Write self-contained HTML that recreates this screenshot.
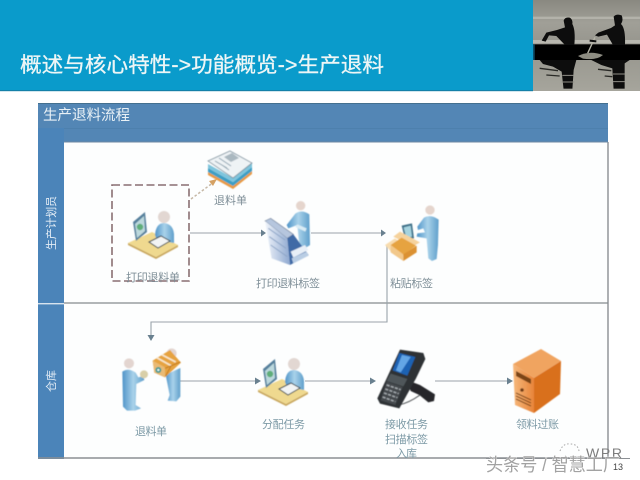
<!DOCTYPE html>
<html lang="zh">
<head>
<meta charset="utf-8">
<style>
html,body{margin:0;padding:0;width:640px;height:480px;overflow:hidden;background:#fff}
svg{display:block}
text{font-family:"Liberation Sans","Noto Sans CJK SC",sans-serif}
.l{font-size:11px;fill:#7f8f98}
.g{fill:#7d9aa6}
</style>
</head>
<body>
<svg width="640" height="480" viewBox="0 0 640 480" xmlns="http://www.w3.org/2000/svg">
<defs>
<filter id="b" x="-10%" y="-10%" width="120%" height="120%"><feGaussianBlur stdDeviation="0.6"/></filter>
<filter id="t" x="-5%" y="-20%" width="110%" height="140%"><feGaussianBlur stdDeviation="0.3"/></filter>
<filter id="p" x="-5%" y="-5%" width="110%" height="110%"><feGaussianBlur stdDeviation="0.8"/></filter>
<linearGradient id="body" x1="0" x2="1"><stop offset="0" stop-color="#4f94c8"/><stop offset=".5" stop-color="#a9d2ea"/><stop offset="1" stop-color="#5f9fcb"/></linearGradient>
<linearGradient id="srv" x1="0" x2="1"><stop offset="0" stop-color="#f6b87c"/><stop offset="1" stop-color="#e8853a"/></linearGradient>
<linearGradient id="sky" x1="0" x2="0" y1="0" y2="1"><stop offset="0" stop-color="#8a8981"/><stop offset=".25" stop-color="#a09f97"/><stop offset=".5" stop-color="#96958d"/><stop offset="1" stop-color="#a6a59c"/></linearGradient>
<linearGradient id="prn" x1="0" x2="1"><stop offset="0" stop-color="#f1f5fb"/><stop offset="1" stop-color="#8fa9d0"/></linearGradient>

<g id="desk">
  <path d="M0 33 L24 22 L50 35 L28 47 Z" fill="#efd98f"/>
  <path d="M0 33 L28 47 L50 35 L50 37 L28 49 L0 35 Z" fill="#c9a85e"/>
  <path d="M5 12 L17 2 L19 22 L8 31 Z" fill="#57809c"/>
  <path d="M7 14 L16 6 L17 21 L9 28 Z" fill="#bcd8dd"/>
  <circle cx="12" cy="17" r="3.2" fill="#5fae7a"/>
  <circle cx="36" cy="7" r="6" fill="#e2d7d2"/>
  <path d="M27 25 Q28 13 36 13 Q45 14 46 24 L46 33 L34 31 L29 30 Z" fill="url(#body)"/>
  <path d="M21 32 L33 26 L42 31 L30 38 Z" fill="#f2f4f4" stroke="#3d474e" stroke-width="1"/>
</g>
</defs>

<!-- header -->
<rect x="0" y="0" width="640" height="91" fill="#0a9bcb"/>
<rect x="0" y="90" width="533" height="1.2" fill="#1480a8"/>
<text x="20" y="72" font-size="21" fill="#eef6f6" stroke="#eef6f6" stroke-width=".3" textLength="364" lengthAdjust="spacingAndGlyphs" filter="url(#t)">概述与核心特性-&gt;功能概览-&gt;生产退料</text>

<!-- photo (drawn in 3x local coordinates) -->
<g transform="translate(533,0) scale(.3333)">
  <g filter="url(#p)">
    <rect x="0" y="0" width="321" height="273" fill="url(#sky)"/>
    <rect x="0" y="50" width="321" height="7" fill="#b3b2aa"/>
    <rect x="0" y="120" width="321" height="10" fill="#b9b8b0"/>
    <rect x="0" y="133" width="321" height="47" fill="#040404"/>
    <rect x="0" y="133" width="5" height="47" fill="#10506a"/>
    <!-- left rower -->
    <path d="M92 62 Q96 50 110 53 Q120 58 118 72 Q128 90 124 135 L96 135 L70 108 L48 106 L38 125 L26 122 L40 98 L72 90 L96 82 Z" fill="#0b0b0a"/>
    <!-- right rower -->
    <path d="M242 50 Q250 40 266 46 Q272 60 264 72 Q278 85 276 135 L240 135 L222 104 L196 110 L186 106 L196 98 L234 84 L246 76 Z" fill="#0b0b0a"/>
    <!-- oar -->
    <path d="M186 112 L164 160" stroke="#b5b4a8" stroke-width="4"/>
    <path d="M170 122 L190 124" stroke="#0b0b0a" stroke-width="6"/>
    <path d="M135 168 Q170 150 210 165 Q190 182 150 176 Z" fill="#8d8c82"/>
    <!-- reflections -->
    <path d="M20 180 H130 L122 210 L118 270 L92 270 L86 215 L60 200 L30 192 Z" fill="#0d0d0c"/>
    <path d="M175 180 H290 L275 190 L275 270 L242 270 L238 205 L205 195 Z" fill="#0d0d0c"/>
    <path d="M20 205 L75 212 M40 225 L80 228 M195 208 L235 212 M215 228 L238 230" stroke="#2a2a28" stroke-width="4"/>
    <path d="M88 226 H122 M86 246 H124 M240 222 H276 M240 245 H276" stroke="#8e8d85" stroke-width="3"/>
    <rect x="0" y="266" width="321" height="7" fill="#a6a59c"/>
  </g>
</g>

<!-- panel -->
<rect x="38" y="103" width="570" height="39" fill="#5386b5"/>
<rect x="38" y="103" width="570" height="1" fill="#44708f"/>
<rect x="38" y="128" width="570" height="1" fill="#4d80ad"/>
<rect x="38" y="128" width="26" height="331" fill="#4b84b9"/>
<rect x="38" y="303" width="26" height="1.4" fill="#d7e3ee"/>
<rect x="64" y="142" width="544" height="316" fill="#fdfefe"/>
<path d="M608 142 V458 H38" fill="none" stroke="#8b8f93" stroke-width="1.4"/>
<path d="M64 142 H608" stroke="#6e88a2" stroke-width="1"/>
<path d="M64 303 H608" stroke="#858b8f" stroke-width="1.2"/>
<text x="43" y="120" font-size="14.5" fill="#e9f1f6" textLength="87" lengthAdjust="spacingAndGlyphs" filter="url(#t)">生产退料流程</text>
<text transform="translate(55,250) rotate(-90)" font-size="11" fill="#e5eef6" textLength="54" filter="url(#t)">生产计划员</text>
<text transform="translate(55,392) rotate(-90)" font-size="11" fill="#e5eef6" textLength="22" filter="url(#t)">仓库</text>

<!-- dashed box -->
<rect x="112" y="185" width="77" height="96" fill="none" stroke="#8a6f72" stroke-width="1.6" stroke-dasharray="8 3.5"/>
<path d="M191 199 L214 182" stroke="#c6b8a6" stroke-width="1.5" stroke-dasharray="2.5 2" fill="none"/>
<path d="M217 179 L209 181 L213 186 Z" fill="#d5a163"/>

<!-- connectors -->
<g fill="none" stroke="#9aa3aa" stroke-width="1.1">
  <path d="M190 233 H262"/>
  <path d="M311 233 H382"/>
  <path d="M387 245 V322 H151 V337"/>
  <path d="M180 381 H256"/>
  <path d="M305 381 H373"/>
  <path d="M435 381 H511"/>
</g>
<g fill="#69808f">
  <path d="M266 233 L261 229.500 V236.500 Z"/>
  <path d="M386 233 L381 229.500 V236.500 Z"/>
  <path d="M151 341 L147.500 335 H154.500 Z"/>
  <path d="M261 381 L255 377.500 V384.500 Z"/>
  <path d="M376 381 L370 377.500 V384.500 Z"/>
  <path d="M513 381 L507 377.500 V384.500 Z"/>
</g>

<g filter="url(#b)">
  <!-- document stack -->
  <path d="M208 172 L233 186 L252 171 L252 174 L233 189 L208 175 Z" fill="#e89a45"/>
  <path d="M208 168 L233 182 L252 167 L252 171 L233 186 L208 172 Z" fill="#3e9fc4"/>
  <path d="M208 164 L233 178 L252 163 L252 167 L233 182 L208 168 Z" fill="#7ec4dc"/>
  <path d="M208 161 L230 151 L252 163 L233 178 Z" fill="#eef3f5" stroke="#7e929e" stroke-width=".8"/>
  <path d="M224 157 L232 153 L239 158 L231 162 Z" fill="#aab8c0"/>
  <path d="M215 161 L227 168 M219 158 L231 166 M222 165 L229 170" stroke="#8ba0ae" stroke-width="1"/>

  <!-- desk user 1 -->
  <use href="#desk" x="128" y="210"/>

  <!-- printer operator + packer (3x local) -->
  <g transform="translate(260,195) scale(.3333)">
    <circle cx="122" cy="32" r="14" fill="#e5d5cd"/>
    <path d="M106 56 Q125 42 148 58 L150 150 L135 160 L118 150 L112 90 L85 100 L80 90 Z" fill="url(#body)"/>
    <path d="M112 88 L140 100 L136 110 L106 96 Z" fill="#d9ecf5"/>
    <path d="M15 78 L32 70 L100 118 L82 130 Z" fill="#b6c6de" stroke="#6b7c96" stroke-width="2"/>
    <path d="M15 78 L82 130 L90 210 L35 190 Z" fill="url(#prn)"/>
    <path d="M82 130 L100 118 L146 180 L90 210 Z" fill="#3f6aa6"/>
    <path d="M92 170 L135 150 L145 165 L100 188 Z" fill="#e8eff7"/>
    <path d="M95 190 L140 170 L146 182 L100 205 Z" fill="#b9cde4"/>
    <path d="M25 100 L75 135 M28 125 L78 160 M32 150 L82 185" stroke="#8ea6c8" stroke-width="3"/>

    <circle cx="510" cy="45" r="14" fill="#e5d5cd"/>
    <path d="M492 68 Q512 56 536 74 L534 150 L530 192 L516 198 L505 190 L500 130 L470 125 L472 115 L495 112 L490 100 L474 105 L472 95 Z" fill="url(#body)"/>
    <path d="M425 92 L456 85 L462 130 L436 136 Z" fill="#3d6f88"/>
    <path d="M431 97 L452 92 L456 125 L439 129 Z" fill="#a5d3df"/>
    <path d="M375 150 L405 130 L430 148 L395 172 Z" fill="#f8dcae"/>
    <path d="M420 110 L480 142 L458 155 L400 125 Z" fill="#f5d29c"/>
    <path d="M392 150 L425 128 L468 152 L430 180 Z" fill="#e6a341"/>
    <path d="M392 150 L430 178 L430 198 L392 172 Z" fill="#f2c88a"/>
    <path d="M430 178 L470 152 L470 172 L430 198 Z" fill="#db9131"/>
  </g>

  <!-- warehouse pair (3x local) -->
  <g transform="translate(115,340) scale(.3333)">
    <circle cx="42" cy="70" r="15" fill="#e3d5d0"/>
    <path d="M22 95 Q40 82 62 98 L70 112 L85 108 L88 120 L64 132 L62 195 L78 205 L60 212 L36 212 L24 200 Z" fill="url(#body)"/>
    <circle cx="87" cy="103" r="12" fill="#d8cfa8"/>
    <circle cx="170" cy="40" r="15" fill="#e3d5d0"/>
    <path d="M152 104 L196 84 L196 170 L184 184 L158 182 L164 165 Z" fill="url(#body)"/>
    <path d="M113 62 L165 30 L198 68 L150 112 L118 98 Z" fill="#e6a341"/>
    <path d="M113 62 L150 82 L150 112 L118 98 Z" fill="#e9ba74"/>
    <path d="M125 53 L170 78 M140 44 L182 66" stroke="#f8e8cd" stroke-width="5"/>
    <path d="M150 85 L196 66 M168 78 L152 108" stroke="#c37b1f" stroke-width="3"/>
    <circle cx="130" cy="90" r="9" fill="#3f9a94"/><circle cx="130" cy="90" r="3.500" fill="#eef5f4"/>
  </g>

  <!-- desk user 2 -->
  <use href="#desk" x="258" y="357"/>

  <!-- scanner (3x local) -->
  <g transform="translate(370,345) scale(.3333)">
    <path d="M110 105 L150 120 L195 148 L192 168 L175 172 L148 150 L122 138 Z" fill="#26282a"/>
    <path d="M85 180 Q115 175 150 150" stroke="#45484b" stroke-width="3" fill="none"/>
    <path d="M90 14 L160 24 L166 42 L138 100 L88 190 L30 176 L22 160 Z" fill="#2e3236"/>
    <path d="M88 24 L136 36 L112 92 L68 76 Z" fill="#1b62b3"/>
    <path d="M96 30 L122 36 L92 82 L78 76 Z" fill="#64a6e6"/>
    <path d="M62 86 L112 102 L100 124 L50 108 Z" fill="#50565a"/>
    <path d="M50 110 L98 126 L76 180 L32 166 Z" fill="#44494d"/>
    <g stroke="#a8aeb2" stroke-width="4" stroke-dasharray="9 4">
      <path d="M50 120 L92 134"/><path d="M46 132 L86 146"/><path d="M42 144 L82 158"/><path d="M38 156 L76 170"/>
    </g>
  </g>

  <!-- server -->
  <path d="M513 364 L541 349 L561 361 L534 378 Z" fill="#f0a460"/>
  <path d="M513 364 L534 378 L534 413 L515 405 Z" fill="url(#srv)"/>
  <path d="M534 378 L561 361 L560 394 L534 413 Z" fill="#d96f1d"/>
  <path d="M516 371 L531 379 L531 384 L516 376 Z" fill="#7c4418"/>
  <path d="M516 399 L531 406 M516 396 L531 403 M516 393 L531 400" stroke="#7c4418" stroke-width="1"/>
  <circle cx="522" cy="390" r="1.800" fill="#703a12"/>
</g>

<!-- labels -->
<g filter="url(#t)">
<text class="l" x="214" y="204" textLength="33">退料单</text>
<text class="l" x="126" y="281" textLength="54">打印退料单</text>
<text class="l" x="256" y="287" textLength="64">打印退料标签</text>
<text class="l" x="390" y="287" textLength="43">粘贴标签</text>
<text class="l g" x="135" y="435" textLength="32">退料单</text>
<text class="l g" x="262" y="428" textLength="43">分配任务</text>
<text class="l g" x="385" y="428" textLength="43">接收任务</text>
<text class="l g" x="385" y="443" textLength="43">扫描标签</text>
<text class="l g" x="396" y="457" textLength="21">入库</text>
<text class="l g" x="516" y="428" textLength="43">领料过账</text>
</g>

<!-- watermark -->
<g filter="url(#t)">
<path d="M560 451 q3 -8 10 -7 q8 0 9 7 M565 456 q8 4 13 -1" stroke="#a9a9a9" stroke-width="1" stroke-dasharray="1.500 2" fill="none"/>
<path d="M486 458.500 H630" stroke="#8b8f93" stroke-width="1"/>
<text x="586" y="458" font-size="14" fill="#7d7d7d" textLength="36">WPR</text>
<text x="486" y="471" font-size="18" fill="#a2a2a2" stroke="#fff" stroke-width=".6" paint-order="stroke" textLength="134" lengthAdjust="spacingAndGlyphs">头条号 / 智慧工厂</text>
<text x="613" y="470" font-size="9" fill="#444">13</text>
</g>
</svg>
</body>
</html>
